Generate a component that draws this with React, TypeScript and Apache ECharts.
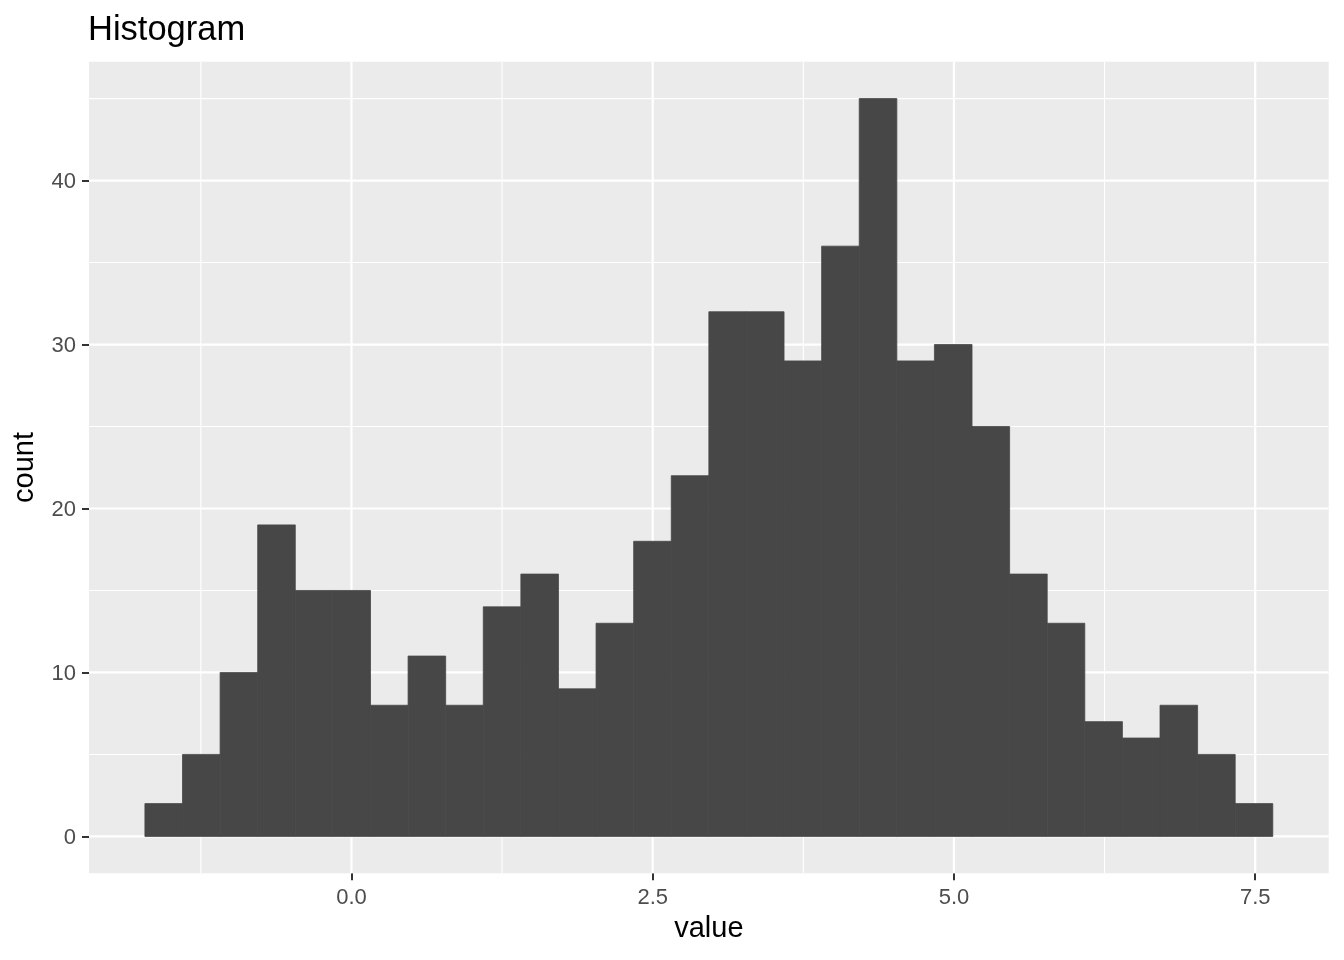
import React, { useEffect, useRef } from "react";
import * as echarts from "echarts";

const title = "Histogram";
const xName = "value";
const yName = "count";
const binStart = -1.714;
const binWidth = 0.312;
const counts = [2, 5, 10, 19, 15, 15, 8, 11, 8, 14, 16, 9, 13, 18, 22, 32, 32, 29, 36, 45, 29, 30, 25, 16, 13, 7, 6, 8, 5, 2];
const xTicks = [0, 2.5, 5, 7.5];
const xMinor = [-1.25, 1.25, 3.75, 6.25];
const yTicks = [0, 10, 20, 30, 40];
const yMinor = [5, 15, 25, 35, 45];
const xRange = [-2.178, 8.11];
const yRange = [-2.25, 47.25];

const FONT = "Liberation Sans, Arial, Helvetica, sans-serif";

export default function App() {
  const ref = useRef<HTMLDivElement>(null);
  useEffect(() => {
    if (!ref.current) return;
    const chart = echarts.init(ref.current, undefined, { renderer: "svg" });
    const bins = counts.map((c, i) => [binStart + i * binWidth, binStart + (i + 1) * binWidth, c]);
    const gridData: number[][] = [
      ...xTicks.map((v) => [v, 0]),
      ...xMinor.map((v) => [v, 1]),
      ...yTicks.map((v) => [v, 2]),
      ...yMinor.map((v) => [v, 3]),
    ];
    chart.setOption({
      animation: false,
      title: {
        text: title,
        left: 88,
        top: 10,
        padding: 0,
        textStyle: { fontFamily: FONT, fontSize: 34.5, fontWeight: "normal", color: "#000" },
      },
      grid: {
        left: 89,
        right: 15.3,
        top: 61.7,
        bottom: 86.7,
        show: true,
        containLabel: false,
        outerBoundsMode: "none",
        backgroundColor: "#EBEBEB",
        borderWidth: 0,
      },
      xAxis: {
        type: "value",
        min: xRange[0],
        max: xRange[1],
        name: xName,
        nameLocation: "middle",
        nameGap: 37,
        nameTextStyle: { fontFamily: FONT, fontSize: 29, color: "#000" },
        axisLine: { show: false, onZero: false },
        splitLine: { show: false },
        axisTick: { show: true, length: 7, customValues: xTicks, lineStyle: { color: "#333333", width: 2 } },
        axisLabel: {
          customValues: xTicks,
          margin: 12,
          fontFamily: FONT,
          fontSize: 22,
          color: "#4D4D4D",
          formatter: (v: number) => v.toFixed(1),
        },
      },
      yAxis: {
        type: "value",
        min: yRange[0],
        max: yRange[1],
        name: yName,
        nameLocation: "middle",
        nameRotate: 90,
        nameGap: 52,
        nameTextStyle: { fontFamily: FONT, fontSize: 29, color: "#000" },
        axisLine: { show: false, onZero: false },
        splitLine: { show: false },
        axisTick: { show: true, length: 7, customValues: yTicks, lineStyle: { color: "#333333", width: 2 } },
        axisLabel: {
          customValues: yTicks,
          margin: 13,
          fontFamily: FONT,
          fontSize: 22,
          color: "#4D4D4D",
        },
      },
      series: [
        {
          type: "custom",
          z: 1,
          silent: true,
          data: gridData,
          encode: { x: 0 },
          renderItem: (params: any, api: any) => {
            const v = api.value(0);
            const kind = api.value(1);
            const cs = params.coordSys;
            const w = kind === 0 || kind === 2 ? 2.2 : 1.1;
            if (kind < 2) {
              const x = api.coord([v, 0])[0];
              return {
                type: "line",
                shape: { x1: x, y1: cs.y, x2: x, y2: cs.y + cs.height },
                style: { stroke: "#FFFFFF", lineWidth: w },
              };
            }
            const y = api.coord([xRange[0], v])[1];
            return {
              type: "line",
              shape: { x1: cs.x, y1: y, x2: cs.x + cs.width, y2: y },
              style: { stroke: "#FFFFFF", lineWidth: w },
            };
          },
        },
        {
          type: "custom",
          z: 2,
          data: bins,
          encode: { x: [0, 1], y: 2 },
          renderItem: (params: any, api: any) => {
            const p0 = api.coord([api.value(0), api.value(2)]);
            const p1 = api.coord([api.value(1), 0]);
            return {
              type: "rect",
              shape: { x: p0[0], y: p0[1], width: p1[0] - p0[0], height: p1[1] - p0[1] },
              style: { fill: "#474747", stroke: "#474747", lineWidth: 0.8 },
            };
          },
        },
      ],
    });
    return () => chart.dispose();
  }, []);
  return <div ref={ref} style={{ position: "fixed", left: 0, top: 0, width: 1344, height: 960 }} />;
}
